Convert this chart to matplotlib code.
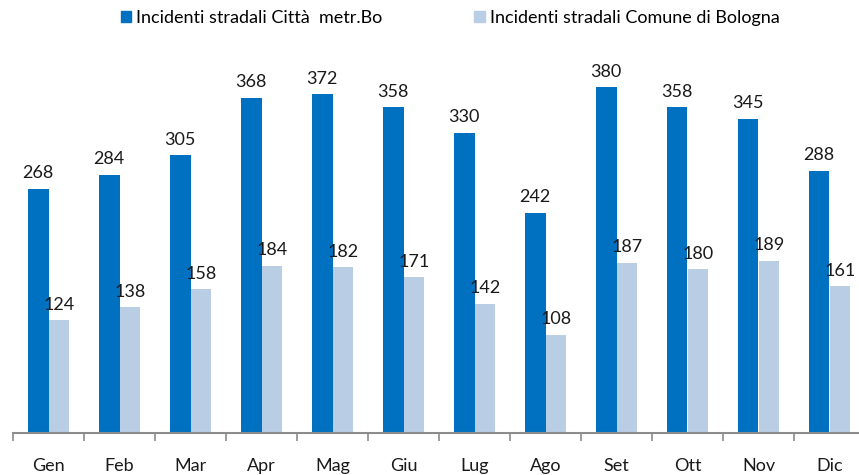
import matplotlib
matplotlib.use("Agg")
import matplotlib.pyplot as plt
import numpy as np
from matplotlib.patches import Patch

months = ["Gen", "Feb", "Mar", "Apr", "Mag", "Giu", "Lug", "Ago", "Set", "Ott", "Nov", "Dic"]
citta = [268, 284, 305, 368, 372, 358, 330, 242, 380, 358, 345, 288]
comune = [124, 138, 158, 184, 182, 171, 142, 108, 187, 180, 189, 161]
series_names = ["Incidenti stradali Città  metr.Bo", "Incidenti stradali Comune di Bologna"]
colors = ["#0070C0", "#B9CDE5"]

plt.rcParams['font.family'] = ['Lato', 'DejaVu Sans']

W, H = 859, 475
fig = plt.figure(figsize=(W/100, H/100), dpi=100)
left, right = 13, 865
bottom_px, top_px = 433, 69
ax = fig.add_axes([left/W, 1-bottom_px/H, (right-left)/W, (bottom_px-top_px)/H])

x = np.arange(len(months))
bw = 0.295
b1 = ax.bar(x - bw/2, citta, bw, color=colors[0])
b2 = ax.bar(x + bw/2, comune, bw, color=colors[1])
for bars, vals in ((b1, citta), (b2, comune)):
    for r, v in zip(bars, vals):
        ax.annotate(str(v), (r.get_x() + r.get_width()/2, v), xytext=(0, 5.5),
                    textcoords="offset points", ha="center", va="bottom",
                    fontsize=13, color="#1a1a1a")

ax.set_xlim(-0.5, len(months) - 0.5)
ax.set_ylim(0, 400)
for s in ["top", "right", "left"]:
    ax.spines[s].set_visible(False)
ax.spines["bottom"].set_color("#8c8c8c")
ax.spines["bottom"].set_linewidth(1.5)
ax.set_yticks([])
ax.set_xticks(x)
ax.set_xticklabels(months, fontsize=13, color="#1a1a1a")
ax.tick_params(axis="x", which="major", length=0, pad=18)
ax.set_xticks(np.arange(len(months) + 1) - 0.5, minor=True)
ax.tick_params(axis="x", which="minor", length=6, color="#8c8c8c", width=1.2)

handles = [Patch(color=c) for c in colors]
fig.legend(handles, series_names, loc="center", bbox_to_anchor=(450/W, 1-18/H),
           ncol=2, frameon=False, fontsize=13, handlelength=0.6, handleheight=0.6,
           handletextpad=0.25, columnspacing=5.1, borderaxespad=0, borderpad=0)

fig.savefig("out.png", dpi=100)
